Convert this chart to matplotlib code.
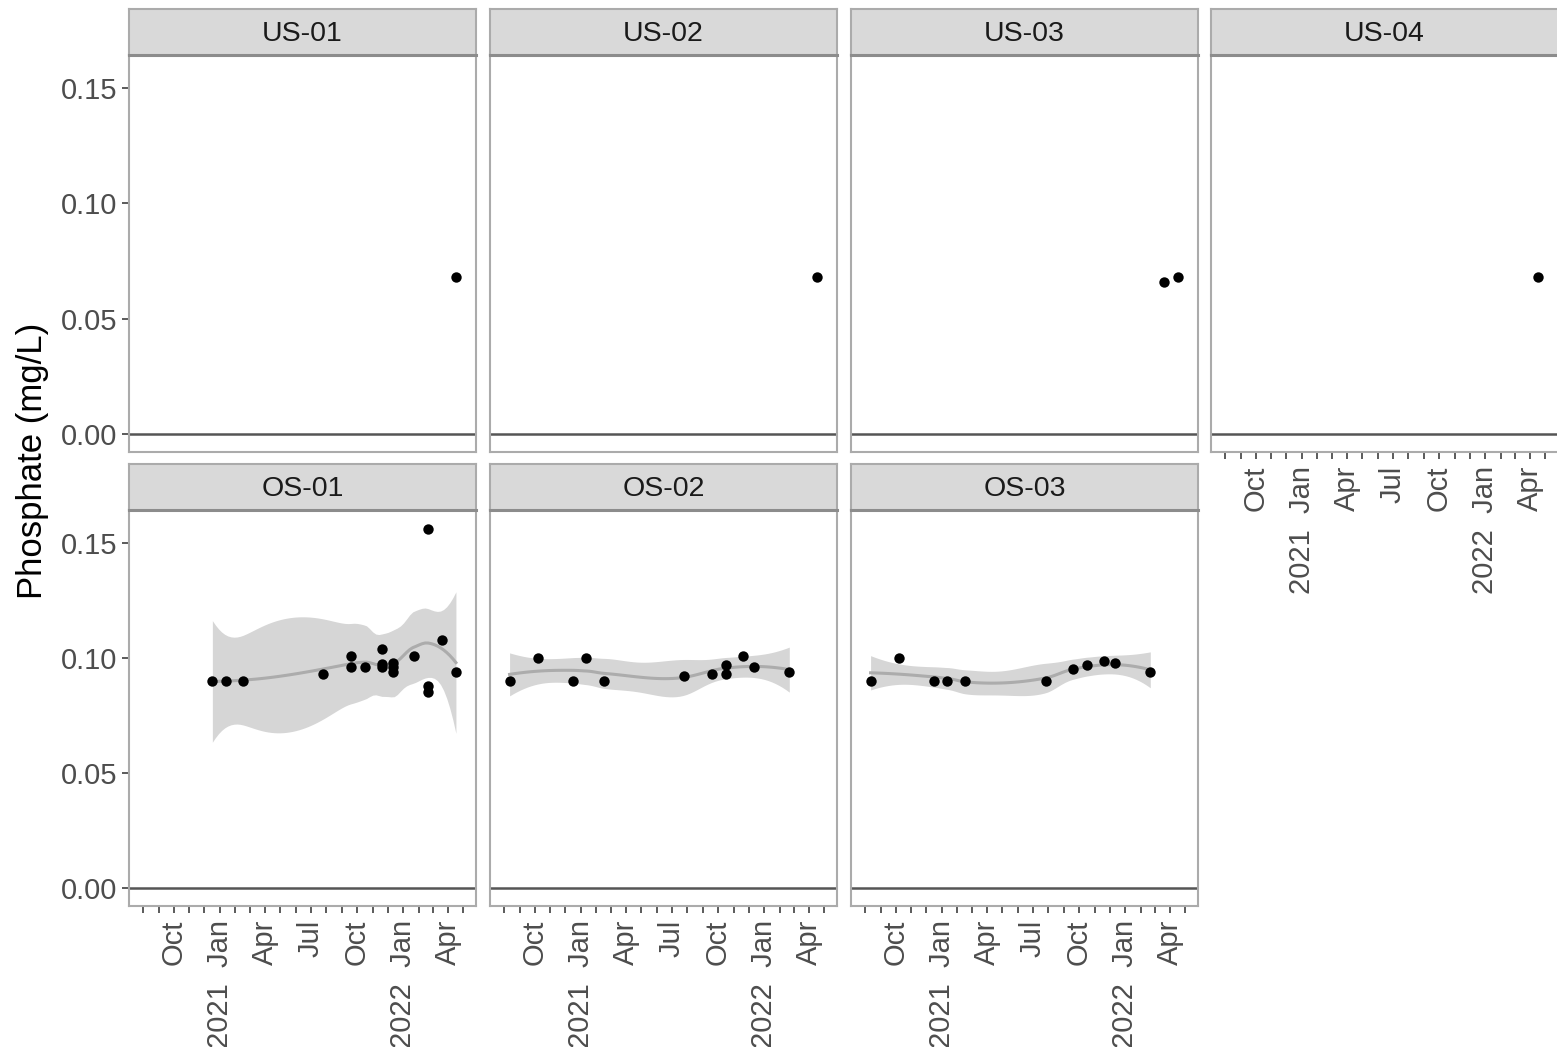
import numpy as np
import pandas as pd
import matplotlib
matplotlib.use("Agg")
import matplotlib.pyplot as plt
import matplotlib.dates as mdates
from matplotlib.ticker import FuncFormatter

plt.rcParams['font.family'] = ['Liberation Sans', 'DejaVu Sans']

# values
us01_dates = ['2022-04-16']
us01_po4 = [0.068]
us02_dates = ['2022-04-16']
us02_po4 = [0.068]
us03_dates = ['2022-03-19', '2022-04-16']
us03_po4 = [0.066, 0.068]
us04_dates = ['2022-04-17']
us04_po4 = [0.068]

os01_dates = ['2020-12-17', '2021-01-14', '2021-02-16', '2021-07-26', '2021-09-20', '2021-09-20',
              '2021-10-17', '2021-11-20', '2021-11-20', '2021-11-20', '2021-12-12', '2021-12-12',
              '2021-12-12', '2022-01-22', '2022-02-19', '2022-02-19', '2022-02-19', '2022-03-19',
              '2022-04-16']
os01_po4 = [0.090, 0.090, 0.090, 0.093, 0.101, 0.096,
            0.096, 0.104, 0.0975, 0.096, 0.098, 0.096,
            0.094, 0.101, 0.156, 0.088, 0.085, 0.108,
            0.094]

os02_dates = ['2020-08-12', '2020-10-07', '2020-12-17', '2021-01-12', '2021-02-16', '2021-07-25',
              '2021-09-20', '2021-10-17', '2021-10-17', '2021-11-20', '2021-12-12', '2022-02-20']
os02_po4 = [0.090, 0.100, 0.090, 0.100, 0.090, 0.092,
            0.093, 0.093, 0.097, 0.101, 0.096, 0.094]

os03_dates = ['2020-08-12', '2020-10-07', '2020-12-17', '2021-01-12', '2021-02-16', '2021-07-27',
              '2021-09-20', '2021-10-17', '2021-11-20', '2021-12-12', '2022-02-20']
os03_po4 = [0.090, 0.100, 0.090, 0.090, 0.090, 0.090,
            0.095, 0.097, 0.0985, 0.098, 0.094]

sites = ['US-01', 'US-02', 'US-03', 'US-04', 'OS-01', 'OS-02', 'OS-03']
site_dates = [us01_dates, us02_dates, us03_dates, us04_dates, os01_dates, os02_dates, os03_dates]
site_po4 = [us01_po4, us02_po4, us03_po4, us04_po4, os01_po4, os02_po4, os03_po4]
smoothed = ['OS-01', 'OS-02', 'OS-03']


def t_quantile(df, z=1.959964):
    # Cornish-Fisher expansion of the t quantile
    g1 = (z**3 + z) / 4
    g2 = (5 * z**5 + 16 * z**3 + 3 * z) / 96
    g3 = (3 * z**7 + 19 * z**5 + 17 * z**3 - 15 * z) / 384
    g4 = (79 * z**9 + 776 * z**7 + 1482 * z**5 - 1920 * z**3 - 945 * z) / 92160
    return z + g1 / df + g2 / df**2 + g3 / df**3 + g4 / df**4


def kd_vertices(xsort, fc, vlo, vhi):
    # 1-d version of the loess kd tree: split cells at the median point
    X = np.concatenate([[np.nan], xsort])  # 1-based like the fortran
    verts = {vlo, vhi}
    stack = [(1, len(xsort), vlo, vhi)]
    while stack:
        l, u, vl, vu = stack.pop()
        if u - l + 1 <= fc:
            continue
        m = (l + u) // 2
        off = 0
        while l <= m + off < u:
            if X[m + off] == X[m + off + 1]:
                off = -off
                if off >= 0:
                    off += 1
            else:
                m = m + off
                break
        xi = X[m]
        if xi == vl or xi == vu:
            continue
        verts.add(xi)
        stack.append((l, m, vl, xi))
        stack.append((m + 1, u, xi, vu))
    return np.array(sorted(verts))


def loess(x, y, xs, span=0.75, cell=0.2):
    # R style loess (degree 2) with kd-tree vertices and cubic hermite interpolation
    order = np.argsort(x, kind='stable')
    x, y = x[order], y[order]
    n = len(x)
    q = int(np.floor(n * span + 1e-5))
    x0, rng = x.min(), x.max() - x.min()
    u = (x - x0) / rng
    us = (xs - x0) / rng

    def vertex_rows(v):
        d = np.abs(u - v)
        h = np.sort(d)[q - 1]
        w = np.where(d < h, (1 - (d / h)**3)**3, 0.0)
        X = np.column_stack([np.ones(n), u - v, (u - v)**2])
        A = X.T @ (w[:, None] * X)
        B = np.linalg.solve(A, X.T * w)
        return B[0], B[1]

    mu = 0.005 * (u.max() - u.min())
    fc = int(np.floor(n * span * cell))
    V = kd_vertices(u, fc, u.min() - mu, u.max() + mu)
    rows = [vertex_rows(v) for v in V]
    val = np.array([r[0] for r in rows])
    slp = np.array([r[1] for r in rows])

    def interp_rows(pts):
        out = np.zeros((len(pts), n))
        for k, p in enumerate(pts):
            i = min(max(np.searchsorted(V, p) - 1, 0), len(V) - 2)
            h = V[i + 1] - V[i]
            t = (p - V[i]) / h
            phi0 = (1 - t)**2 * (1 + 2 * t)
            phi1 = t**2 * (3 - 2 * t)
            psi0 = t * (1 - t)**2
            psi1 = -t**2 * (1 - t)
            out[k] = phi0 * val[i] + phi1 * val[i + 1] + h * (psi0 * slp[i] + psi1 * slp[i + 1])
        return out

    L = interp_rows(u)
    Lp = interp_rows(us)
    fit = Lp @ y
    I_L = np.eye(n) - L
    M = I_L.T @ I_L
    one_delta = np.trace(M)
    two_delta = np.sum(M * M)
    resid = y - L @ y
    sigma = np.sqrt(np.sum(resid**2) / one_delta)
    se = sigma * np.sqrt(np.sum(Lp**2, axis=1))
    tq = t_quantile(one_delta**2 / two_delta)
    return fit, fit - tq * se, fit + tq * se


W, H = 1557, 1047
fig = plt.figure(figsize=(W / 100, H / 100), dpi=100)

col_left = [129, 490, 851, 1211]
panel_w = 347
rows = [(9, 55, 452), (464, 510, 906)]   # strip top, panel top, panel bottom

xlim = (mdates.date2num(pd.Timestamp('2020-07-04')), mdates.date2num(pd.Timestamp('2022-05-26')))
ylim = (-0.0078, 0.1643)
border = '#ABABAB'
tick_col = '#4D4D4D'


def date_label(v, pos):
    d = mdates.num2date(v)
    if d.month == 1:
        return f'{d.year}  Jan'
    return d.strftime('%b')


for i, site in enumerate(sites):
    r, c = divmod(i, 4)
    st, pt, pb = rows[r]
    left = col_left[c]
    ax = fig.add_axes([left / W, 1 - pb / H, panel_w / W, (pb - pt) / H])
    sax = fig.add_axes([left / W, 1 - pt / H, panel_w / W, (pt - st) / H])

    x = np.asarray(mdates.date2num(pd.to_datetime(site_dates[i])), float)
    y = np.array(site_po4[i])

    if site in smoothed:
        xs = np.linspace(x.min(), x.max(), 80)
        fit, lo, hi = loess(x, y, xs)
        ax.fill_between(xs, lo, hi, color='#D6D6D6', lw=0, zorder=1)
        ax.plot(xs, fit, color='#ACACAC', lw=2.2, zorder=2)

    ax.axhline(0, color='#555555', lw=1.8, zorder=2)
    ax.scatter(x, y, s=56, color='black', lw=0, zorder=3)

    ax.set_xlim(*xlim)
    ax.set_ylim(*ylim)
    ax.set_yticks([0, 0.05, 0.10, 0.15])
    ax.yaxis.set_major_formatter(FuncFormatter(lambda v, p: f'{v:.2f}'))
    ax.xaxis.set_major_locator(mdates.MonthLocator(bymonth=[1, 4, 7, 10]))
    ax.xaxis.set_minor_locator(mdates.MonthLocator())
    ax.xaxis.set_major_formatter(FuncFormatter(date_label))
    ax.tick_params(axis='both', which='both', length=5, width=1.3, color=tick_col,
                   labelcolor=tick_col, labelsize=21)
    ax.tick_params(axis='y', pad=3.5)
    ax.tick_params(axis='x', labelrotation=90, pad=5)

    if c != 0:
        ax.tick_params(axis='y', which='both', left=False, labelleft=False)
    if r == 0 and c != 3:
        ax.tick_params(axis='x', which='both', bottom=False, labelbottom=False)

    for sp in ax.spines.values():
        sp.set_color(border)
        sp.set_linewidth(1.5)

    sax.set_facecolor('#D9D9D9')
    sax.set_xticks([])
    sax.set_yticks([])
    for sp in sax.spines.values():
        sp.set_color(border)
        sp.set_linewidth(1.5)
    sax.spines['bottom'].set_color('#8C8C8C')
    sax.spines['bottom'].set_linewidth(2.2)
    sax.text(0.5, 0.45, site, transform=sax.transAxes, ha='center', va='center',
             fontsize=20.5, color='#1A1A1A')

fig.text(33 / W, 1 - 461 / H, 'Phosphate (mg/L)', rotation=90, ha='center', va='center',
         fontsize=25, color='black')

fig.savefig('out.png', dpi=100, facecolor='white')
